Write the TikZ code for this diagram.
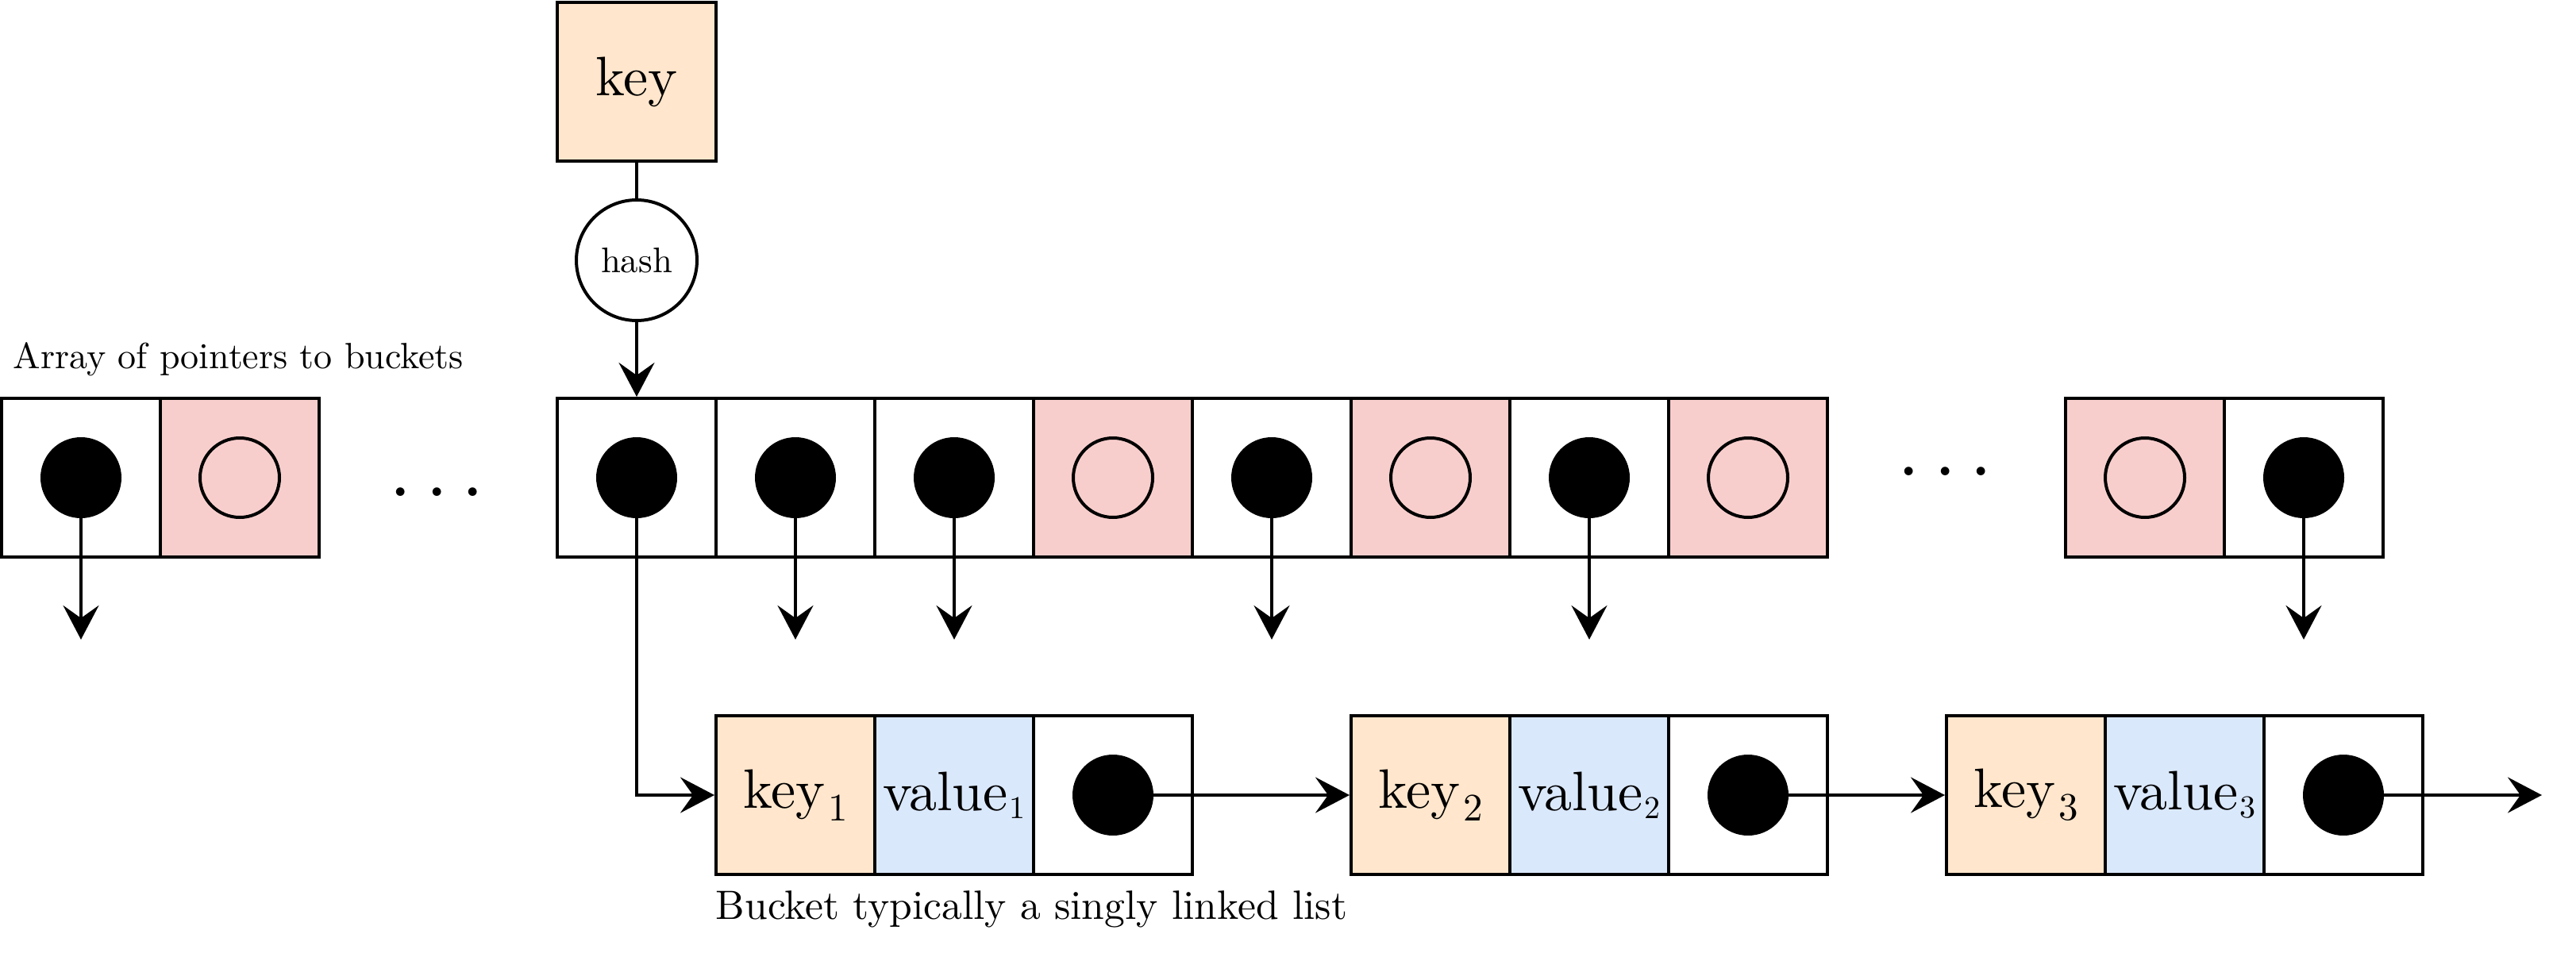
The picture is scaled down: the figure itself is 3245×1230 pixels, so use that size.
\documentclass[tikz,border=0pt]{standalone}
\usepackage{fontspec}
\setmainfont{lmroman10-regular}[Extension=.otf]
\usetikzlibrary{arrows.meta}
\definecolor{keyc}{HTML}{FFE6CC}
\definecolor{valc}{HTML}{DAE8FC}
\definecolor{nilc}{HTML}{F8CECC}
\newcommand{\bigf}{\fontsize{17.5}{20}\selectfont}
\newcommand{\ksub}[1]{\kern1pt\raisebox{-4pt}{\fontsize{12.25}{13}\selectfont #1}}
\newcommand{\vsub}[1]{\kern0.5pt\raisebox{-2.5pt}{\fontsize{10}{10}\selectfont #1}}
\newcommand{\dotsrow}{.\kern4.29pt.\kern4.29pt.}
\begin{document}
\begin{tikzpicture}[x=0.25pt,y=-0.25pt,
  cell/.style={draw, line width=1pt, minimum width=50pt, minimum height=50pt, inner sep=0pt, anchor=center},
  pcell/.style={cell, fill=white},
  ncell/.style={cell, fill=nilc},
  ptr/.style={circle, fill=black, minimum size=25.5pt, inner sep=0pt},
  nil/.style={circle, draw, line width=1pt, minimum size=25pt, inner sep=0pt},
  link/.style={line width=1pt, -{Stealth[length=10.75pt,width=11.25pt,inset=4pt]}},
  plain/.style={line width=1pt},
  label/.style={anchor=base west, inner sep=0pt},
  ell/.style={anchor=base west, inner sep=0pt, font=\fontsize{25.5}{26}\selectfont}
]
\useasboundingbox (0,0) rectangle (3245,1230);

% key and hash
\node[cell, fill=keyc, font=\bigf] (key) at (802,103) {key};
\node[circle, draw, line width=1pt, minimum size=38pt, inner sep=0pt,
      font=\fontsize{11.2}{13}\selectfont] (hash) at (802,328) {hash};

% left group
\node[pcell] (l1) at (102,602) {};
\node[ncell] (l2) at (302,602) {};
\node[ptr] (l1-d) at (l1.center) {};
\node[nil] (l2-d) at (l2.center) {};

% main array
\foreach \i/\s/\d in {1/pcell/ptr, 2/pcell/ptr, 3/pcell/ptr, 4/ncell/nil,
                      5/pcell/ptr, 6/ncell/nil, 7/pcell/ptr, 8/ncell/nil} {
  \node[\s] (a\i) at ({602+200*\i},602) {};
  \node[\d] (a\i-d) at (a\i.center) {};
}

% right group
\node[ncell] (r1) at (2702,602) {};
\node[pcell] (r2) at (2902,602) {};
\node[nil] (r1-d) at (r1.center) {};
\node[ptr] (r2-d) at (r2.center) {};

% ellipses
\node[ell] (e1) at (490,625) {\dotsrow};
\node[ell] (e2) at (2390,599) {\dotsrow};

% label
\node[label, font=\fontsize{11.5}{13}\selectfont] (t1) at (16,464) {Array of pointers to buckets};

% buckets
\foreach \b/\x in {1/1002, 2/1802, 3/2552} {
  \node[cell, fill=keyc, font=\bigf] (b\b-k) at (\x,1002) {key\ksub{\b}};
  \node[cell, fill=valc, font=\bigf] (b\b-v) at ({\x+200},1002) {value\vsub{\b}};
  \node[pcell] (b\b-p) at ({\x+400},1002) {};
  \node[ptr] (b\b-d) at (b\b-p.center) {};
}
\node[label, font=\fontsize{12.9}{14}\selectfont] (t2) at (901,1158) {Bucket typically a singly linked list};

% connectors
\draw[plain] (key.south) -- (hash.north);
\draw[link] (hash.south) -- (a1.north);
\foreach \n in {l1,a2,a3,a5,a7,r2} {
  \coordinate (\n-e) at (\n-d |- 0,806);
  \draw[link] (\n-d.center) -- (\n-e);
}
\draw[link] (a1-d.center) |- (b1-k.west);
\draw[link] (b1-d.center) -- (b2-k.west);
\draw[link] (b2-d.center) -- (b3-k.west);
\coordinate (bend) at (3202,1002);
\draw[link] (b3-d.center) -- (bend);
\end{tikzpicture}
\end{document}
